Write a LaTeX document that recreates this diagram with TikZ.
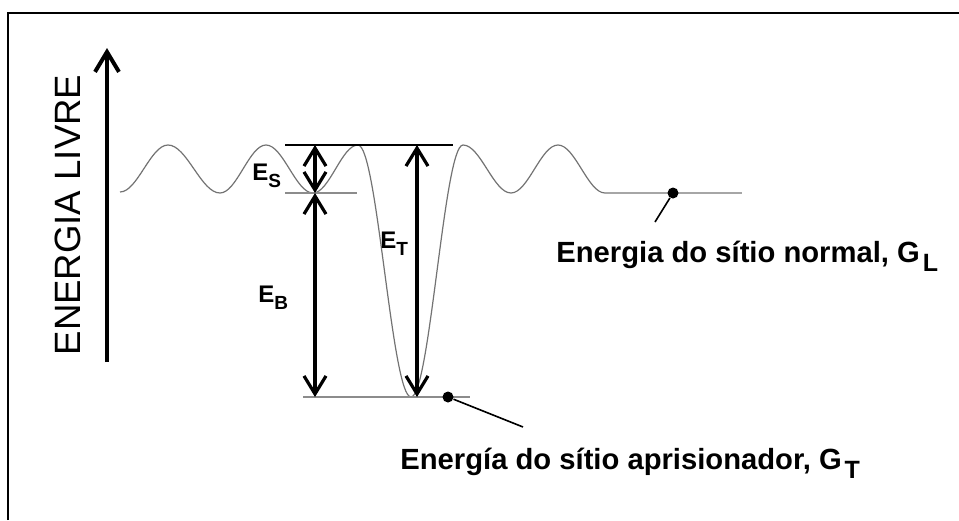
\documentclass[tikz,border=0pt]{standalone}
\usepackage{fontspec}
\setmainfont{Liberation Sans}
\usetikzlibrary{arrows.meta}
\newcommand{\subtxt}[1]{\kern1.5pt\raisebox{-4.5pt}{\fontsize{12.5pt}{12.5pt}\selectfont #1}}
\newcommand{\esub}[1]{\raisebox{-3.5pt}{\fontsize{9.5pt}{9.5pt}\selectfont #1}}
\colorlet{wavecol}{black!55}
\colorlet{levelcol}{black!45}
\tikzset{
  frame/.style   ={line width=1.1pt, black},
  axisarrow/.style={line width=2pt, -{Straight Barb[length=10pt, width=12pt]}},
  wave/.style    ={line width=0.6pt, wavecol},
  level/.style   ={line width=0.8pt, levelcol},
  toplevel/.style={line width=0.9pt, black},
  flat/.style    ={line width=1.4pt, black!35},
  dim/.style     ={line width=1.6pt,
                   {Straight Barb[length=9pt, width=11pt]}-{Straight Barb[length=9pt, width=11pt]}},
  site/.style    ={circle, fill=black, inner sep=0pt, minimum size=5.5pt},
  leader/.style  ={line width=0.8pt, black},
  elbl/.style    ={font=\bfseries\fontsize{12pt}{12pt}\selectfont, inner sep=0pt, anchor=base west},
  lbl/.style     ={font=\bfseries\fontsize{14.6pt}{14.6pt}\selectfont, inner sep=0pt, anchor=base west},
  axislbl/.style ={font=\fontsize{18.3pt}{18.3pt}\selectfont, inner sep=0pt, rotate=90, anchor=base},
}
\begin{document}
\begin{tikzpicture}[x=0.5pt, y=-0.5pt]
\useasboundingbox (0,0) rectangle (959,520);

% frame, only top and left edges show
\draw[frame] (8,520) |- (959,13);

% free energy axis
\coordinate (axisBot) at (107,362);
\coordinate (axisTop) at (107,48);
\draw[axisarrow] (axisBot) -- (axisTop);
\node[axislbl] (axisname) at (80,215) {ENERGIA LIVRE};

% energy landscape with the deep trap
\draw[wave] (120,192) cos (144,168.5) sin (168,145) cos (194,169) sin (220,193)
  cos (243,169) sin (266,145) cos (289.5,169) sin (313,193)
  cos (335.5,169) sin (358,145) cos (384.5,271) sin (411,397)
  cos (437,271) sin (463,145) cos (487,169) sin (511,193)
  cos (534.5,169) sin (558,145) cos (581.5,169) sin (605,193);

% levels
\coordinate (topL) at (285,145);
\coordinate (topR) at (453,145);
\coordinate (midL) at (285,193);
\coordinate (midR) at (357,193);
\coordinate (botL) at (303,397);
\coordinate (botR) at (470,397);
\coordinate (flatL) at (605,193);
\coordinate (flatR) at (742,193);
\draw[toplevel] (topL) -- (topR);
\draw[level] (midL) -- (midR);
\draw[level] (botL) -- (botR);
\draw[flat] (flatL) -- (flatR);

% energy differences
\coordinate (esTop) at (315,145);
\coordinate (esBot) at (315,193);
\coordinate (ebBot) at (315,397);
\coordinate (etTop) at (417,145);
\coordinate (etBot) at (417,397);
\draw[dim] (esTop) -- (esBot);
\draw[dim] (esBot) -- (ebBot);
\draw[dim] (etTop) -- (etBot);
\node[elbl] (ES) at (252,180) {E\esub{S}};
\node[elbl] (EB) at (258,302) {E\esub{B}};
\node[elbl] (ET) at (380,248) {E\esub{T}};

% site energies
\node[site] (GL) at (673,193) {};
\coordinate (GLend) at (655,222);
\draw[leader] (GL) -- (GLend);
\node[lbl] (GLlbl) at (556,262) {Energia do sítio normal, G\subtxt{L}};

\node[site] (GT) at (448,397) {};
\coordinate (GTend) at (523,427);
\draw[leader] (GT) -- (GTend);
\node[lbl] (GTlbl) at (400,469) {Energía do sítio aprisionador, G\subtxt{T}};

\end{tikzpicture}
\end{document}
